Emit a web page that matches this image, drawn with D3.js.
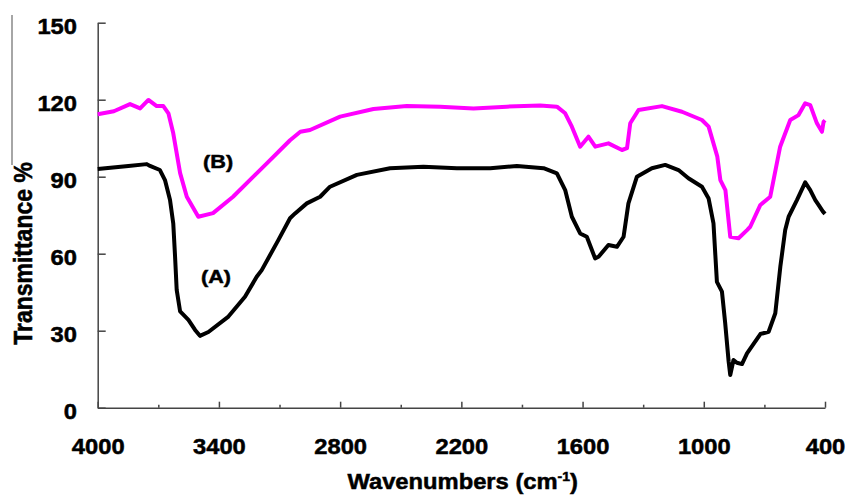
<!DOCTYPE html>
<html>
<head>
<meta charset="utf-8">
<script src="https://cdn.jsdelivr.net/npm/d3@7"></script>
<style>
  body { margin: 0; background: #fff; }
  text { font-family: "Liberation Sans", Arial, sans-serif; font-weight: bold; stroke: #000; stroke-width: 0.5px; }
</style>
</head>
<body>
<svg id="mysvg"></svg>
<script>
// wavenumber (cm-1) and transmittance (%)
const waveA = [4000,3848,3757,3741,3692,3667,3642,3626,3617,3609,3592,3551,3518,3494,3452,3353,3271,3213,3188,3106,3048,3023,2965,2899,2850,2717,2553,2388,2222,2057,1925,1793,1727,1686,1653,1612,1579,1538,1521,1472,1430,1397,1373,1331,1257,1191,1125,1076,1009,976,952,935,910,894,877,869,853,836,811,786,720,679,646,621,597,580,539,498,473,448,432,410,400];
const transA = [93,94.2,94.9,94.2,92.6,88.7,80.9,71.8,58.8,45.9,37.5,34.2,30.3,28,29.5,35.5,43.2,51,53.6,65.3,73.8,75.7,79.6,82.2,86.1,90.7,93.3,93.9,93.3,93.3,94.2,93.3,91.3,84.8,74.4,67.9,66.6,58.2,58.8,63.4,62.7,66.6,79.6,90,93.3,94.6,92.6,89.4,86.1,81.5,71.8,49,45.2,32.9,18,12.7,18.6,17.5,17,21.2,28.7,29.6,36.8,55,69.2,74.4,80.9,87.8,84.8,80.9,79,76.4,75.5];

const waveB = [4000,3920,3840,3790,3749,3708,3675,3650,3626,3592,3559,3502,3429,3330,3163,3048,2997,2949,2800,2635,2470,2305,2140,1975,1810,1727,1686,1653,1612,1571,1537,1472,1405,1380,1364,1323,1207,1108,1009,976,933,918,893,869,828,786,770,720,671,622,572,531,498,473,440,415,407,400];
const transB = [114.3,115.5,118.3,116.6,119.9,117.5,117.5,114.7,106.9,91.4,82.2,74.4,75.8,82.2,95.2,104.2,107.5,108.2,113.4,116.4,117.5,117.3,116.6,117.3,117.7,117.3,114.7,109.5,101.7,105.6,101.7,103,100.4,101.1,110.8,116,117.5,115.3,112.1,109.5,97.8,88.7,84.8,66.6,66,69.2,70.5,79,82.2,101.7,112.1,114,118.6,117.9,110.8,107.5,111.4,112];

const xTicks = [4000,3400,2800,2200,1600,1000,400];
const xMinor = [3700,3100,2500,1900,1300,700];
const yTicks = [0,30,60,90,120,150];
const labels = [{ text: "(B)", w: 3404, v: 93.4 }, { text: "(A)", w: 3414, v: 48.6 }];

const width = 847, height = 495;
const svg = d3.select("#mysvg").attr("width", width).attr("height", height);

const x = d3.scaleLinear().domain([4000, 400]).range([97.7, 825]);
const y = d3.scaleLinear().domain([0, 150]).range([407.7, 22.7]);

// stray frame line at the left edge of the scan
svg.append("line").attr("x1", 12).attr("x2", 12).attr("y1", 15).attr("y2", 165)
  .attr("stroke", "#888").attr("stroke-width", 1.5);

const xAxis = svg.append("g").attr("transform", `translate(0,${y(0)})`)
  .call(d3.axisBottom(x).tickValues(xTicks).tickSizeInner(-6).tickSizeOuter(0).tickPadding(31).tickFormat(d3.format("d")));
svg.append("g").attr("transform", `translate(0,${y(0)})`)
  .call(d3.axisBottom(x).tickValues(xMinor).tickSizeInner(-3).tickSizeOuter(0).tickFormat(""))
  .select(".domain").remove();
const yAxis = svg.append("g").attr("transform", `translate(${x(4000)},0)`)
  .call(d3.axisLeft(y).tickValues(yTicks).tickSizeInner(-8).tickSizeOuter(0).tickPadding(20.7));

svg.selectAll(".domain, .tick line").attr("stroke", "#444").attr("stroke-width", 1.5);
xAxis.selectAll("text").style("font-size", "22px").attr("fill", "#000");
yAxis.selectAll("text").style("font-size", "22px").attr("fill", "#000").attr("dy", "0.47em");
svg.selectAll(".tick text")
  .style("font-family", "'Liberation Sans', Arial, sans-serif").style("font-weight", "bold")
  .attr("textLength", function () { return this.textContent.length * 13.2; })
  .attr("lengthAdjust", "spacingAndGlyphs");

const line = d3.line().x((d) => x(d[0])).y((d) => y(d[1]));

svg.append("path").datum(d3.zip(waveB, transB)).attr("d", line)
  .attr("fill", "none").attr("stroke", "#ff00ff").attr("stroke-width", 4).attr("stroke-linejoin", "round");
svg.append("path").datum(d3.zip(waveA, transA)).attr("d", line)
  .attr("fill", "none").attr("stroke", "#000").attr("stroke-width", 4).attr("stroke-linejoin", "round");

svg.selectAll(".lbl").data(labels).join("text").attr("class", "lbl")
  .attr("x", (d) => x(d.w)).attr("y", (d) => y(d.v)).attr("text-anchor", "middle")
  .attr("textLength", 30).attr("lengthAdjust", "spacingAndGlyphs")
  .style("font-size", "19px").text((d) => d.text);

// axis titles
const xt = svg.append("text").attr("transform", "translate(462.7,488.8) scale(1.08,1)")
  .attr("text-anchor", "middle").style("font-size", "22px");
xt.append("tspan").text("Wavenumbers (cm");
xt.append("tspan").attr("dy", -8).style("font-size", "13px").text("-1");
xt.append("tspan").attr("dy", 8).text(")");

svg.append("text").attr("transform", "translate(32,253.5) rotate(-90) scale(1,1.1)")
  .attr("text-anchor", "middle").style("font-size", "23px").text("Transmittance %");
</script>
</body>
</html>
